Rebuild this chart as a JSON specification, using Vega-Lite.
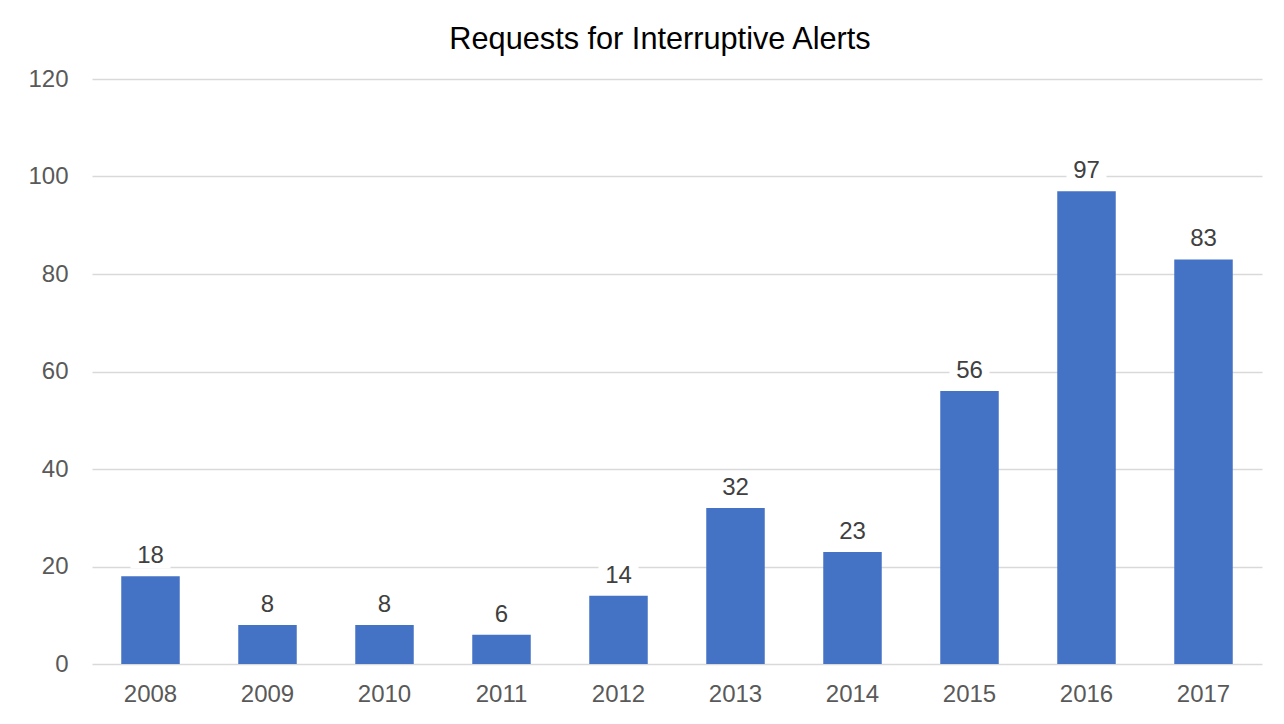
{
  "$schema": "https://vega.github.io/schema/vega-lite/v6.json",
  "width": 1170,
  "height": 585,
  "autosize": {"type": "none"},
  "padding": {"left": 92, "top": 79, "right": 22, "bottom": 60},
  "background": "white",
  "title": {"text": "Requests for Interruptive Alerts", "fontSize": 30.7, "font": "Liberation Sans", "fontWeight": "normal", "color": "#000000", "offset": 11, "dx": -17},
  "data": {"values": [
    {"year": "2008", "count": 18},
    {"year": "2009", "count": 8},
    {"year": "2010", "count": 8},
    {"year": "2011", "count": 6},
    {"year": "2012", "count": 14},
    {"year": "2013", "count": 32},
    {"year": "2014", "count": 23},
    {"year": "2015", "count": 56},
    {"year": "2016", "count": 97},
    {"year": "2017", "count": 83}
  ]},
  "encoding": {
    "x": {"field": "year", "type": "nominal", "scale": {"paddingInner": 0.5, "paddingOuter": 0.25},
      "axis": {"title": null, "labelAngle": 0, "labelFontSize": 24, "labelFont": "Liberation Sans", "labelColor": "#595959", "labelPadding": 18, "domain": false, "ticks": false}},
    "y": {"field": "count", "type": "quantitative", "scale": {"domain": [0, 120]},
      "axis": {"title": null, "values": [0, 20, 40, 60, 80, 100, 120], "labelFontSize": 24, "labelFont": "Liberation Sans", "labelColor": "#595959", "labelPadding": 24, "domain": false, "ticks": false, "gridColor": "#d9d9d9", "gridWidth": 1.5}}
  },
  "layer": [
    {"mark": {"type": "bar", "color": "#4472C4"}},
    {"mark": {"type": "point", "shape": "M-1,-0.7H1V0.7H-1Z", "filled": true, "color": "white", "opacity": 1, "size": 1600, "yOffset": -22}},
    {"mark": {"type": "text", "baseline": "bottom", "dy": -8, "fontSize": 24, "font": "Liberation Sans", "color": "#404040"},
      "encoding": {"text": {"field": "count", "type": "quantitative"}}}
  ],
  "config": {"view": {"stroke": null}}
}
